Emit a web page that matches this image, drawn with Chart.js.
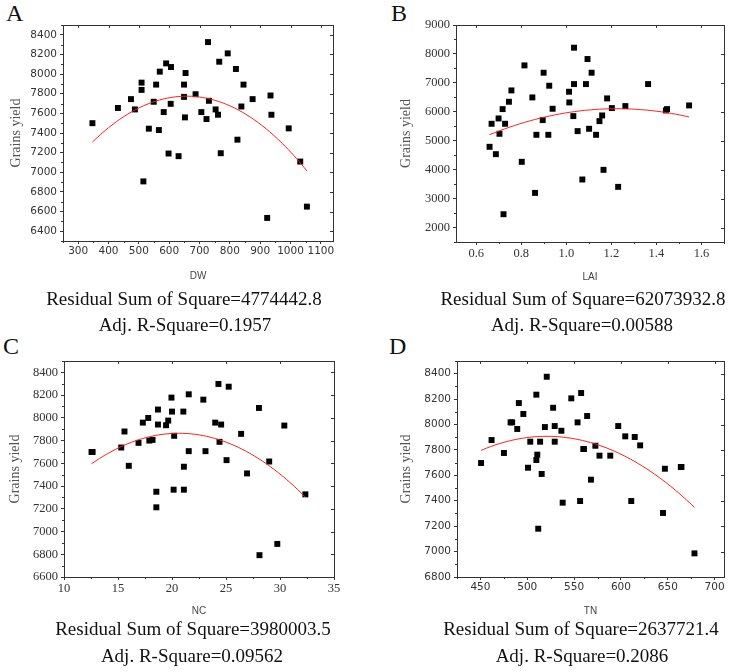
<!DOCTYPE html>
<html>
<head>
<meta charset="utf-8">
<script src="https://cdn.jsdelivr.net/npm/chart.js@4.4.0/dist/chart.umd.min.js"></script>
<style>
    body { margin: 0; background: #fff; width: 738px; height: 672px; position: relative; overflow: hidden; font-family: "Liberation Serif", "Times New Roman", serif; color: #111; }
    canvas { position: absolute; }
    .tag { position: absolute; font-size: 24px; line-height: 1; }
    .cap { position: absolute; width: 400px; text-align: center; font-size: 19px; line-height: 1; white-space: nowrap; }
</style>
</head>
<body>
    <div class="tag" style="left:6px;top:1px">A</div>
    <div class="tag" style="left:391px;top:1px">B</div>
    <div class="tag" style="left:3px;top:334px">C</div>
    <div class="tag" style="left:389px;top:334px">D</div>

    <canvas id="chartA" width="369" height="290" style="left:0;top:0"></canvas>
    <canvas id="chartB" width="369" height="290" style="left:369px;top:0"></canvas>
    <canvas id="chartC" width="369" height="290" style="left:0;top:336px"></canvas>
    <canvas id="chartD" width="369" height="290" style="left:369px;top:336px"></canvas>

    <div class="cap" style="left:-16px;top:289px">Residual Sum of Square=4774442.8</div>
    <div class="cap" style="left:-15px;top:315px">Adj. R-Square=0.1957</div>
    <div class="cap" style="left:383px;top:289px">Residual Sum of Square=62073932.8</div>
    <div class="cap" style="left:382px;top:315px">Adj. R-Square=0.00588</div>
    <div class="cap" style="left:-7px;top:619px">Residual Sum of Square=3980003.5</div>
    <div class="cap" style="left:-8px;top:646px">Adj. R-Square=0.09562</div>
    <div class="cap" style="left:381px;top:619px">Residual Sum of Square=2637721.4</div>
    <div class="cap" style="left:382px;top:646px">Adj. R-Square=0.2086</div>

<script>
    // values
    const dwX = [347, 431, 474, 487, 509, 509, 515, 533, 549, 557, 566, 569, 582, 590, 598, 606, 605, 631, 649, 649, 652, 654, 687, 706, 723, 728, 731, 753, 761, 765, 770, 793, 820, 825, 838, 845, 875, 923, 934, 937, 994, 1032, 1054];
    const dwY = [7500, 7655, 7745, 7640, 7913, 7839, 6907, 7444, 7718, 7893, 7430, 8025, 7613, 8109, 7191, 8072, 7697, 7164, 7893, 7768, 7559, 8011, 7795, 7613, 7542, 8326, 7728, 7640, 7586, 8126, 7194, 8211, 8052, 7332, 7670, 7893, 7745, 6535, 7782, 7586, 7447, 7109, 6650];

    const laiX = [0.659, 0.668, 0.687, 0.699, 0.703, 0.717, 0.721, 0.728, 0.745, 0.756, 0.802, 0.814, 0.849, 0.861, 0.867, 0.895, 0.899, 0.920, 0.924, 0.939, 1.012, 1.013, 1.031, 1.034, 1.034, 1.050, 1.071, 1.087, 1.094, 1.101, 1.112, 1.132, 1.147, 1.159, 1.165, 1.181, 1.202, 1.230, 1.262, 1.363, 1.442, 1.447, 1.545];
    const laiY = [4790, 5586, 4536, 5770, 5240, 6093, 2460, 5586, 6347, 6739, 4271, 7604, 6497, 3198, 5205, 5713, 7351, 5205, 6901, 6105, 6693, 6324, 5851, 8216, 6958, 5332, 3660, 6958, 7824, 5413, 7351, 5205, 5678, 5874, 3994, 6463, 6128, 3406, 6197, 6958, 6047, 6093, 6220];

    const ncX = [12.55, 12.65, 15.3, 15.6, 16.0, 16.9, 17.3, 17.8, 17.9, 18.2, 18.55, 18.55, 18.7, 18.7, 19.45, 19.65, 19.95, 20.0, 20.2, 20.15, 21.05, 21.1, 21.1, 21.55, 21.55, 22.9, 23.1, 24.0, 24.3, 24.4, 24.55, 25.05, 25.25, 26.4, 26.95, 28.05, 28.1, 29.0, 29.75, 30.4, 32.35];
    const ncY = [7700, 7700, 7739, 7880, 7578, 7780, 7958, 7999, 7800, 7806, 7350, 7213, 7941, 8073, 7935, 7976, 8178, 8055, 7842, 7368, 8055, 7570, 7368, 8207, 7707, 8160, 7707, 7958, 8298, 7789, 7941, 7628, 8274, 7859, 7511, 8087, 6792, 7616, 6891, 7932, 7327];

    const tnX = [450.7, 461.9, 475.1, 482.2, 483.9, 489.3, 491.0, 495.8, 500.8, 503.2, 509.7, 509.7, 510.7, 511.7, 513.7, 515.4, 518.8, 520.8, 527.6, 529.3, 529.3, 536.4, 537.8, 547.0, 553.7, 556.4, 557.5, 559.8, 560.5, 563.9, 568.0, 572.7, 577.1, 588.6, 597.1, 604.6, 611.0, 614.7, 620.5, 644.9, 646.9, 663.9, 664.6, 678.5];
    const tnY = [7697, 7878, 7776, 8017, 8017, 7965, 8169, 8083, 7660, 7865, 8235, 7721, 7763, 7180, 7865, 7611, 7980, 8376, 8132, 7988, 7865, 7951, 7385, 8206, 8017, 7398, 8248, 7807, 7807, 8067, 7566, 7833, 7755, 7755, 7988, 7907, 7398, 7902, 7836, 7304, 7652, 7666, 7666, 6986];

    // tick labels
    const dwTicks = [300, 400, 500, 600, 700, 800, 900, 1000, 1100];
    const laiTicks = [0.6, 0.8, 1.0, 1.2, 1.4, 1.6];
    const ncTicks = [10, 15, 20, 25, 30, 35];
    const tnTicks = [450, 500, 550, 600, 650, 700];
    const yieldTicksA = [6400, 6600, 6800, 7000, 7200, 7400, 7600, 7800, 8000, 8200, 8400];
    const yieldTicksB = [2000, 3000, 4000, 5000, 6000, 7000, 8000, 9000];
    const yieldTicksC = [6600, 6800, 7000, 7200, 7400, 7600, 7800, 8000, 8200, 8400];
    const yieldTicksD = [6800, 7000, 7200, 7400, 7600, 7800, 8000, 8200, 8400];

    const SANS = { family: '"DejaVu Sans", sans-serif', size: 10.5 };
    const SERIF = { family: '"Liberation Serif", serif', size: 12.5 };

    // least squares y = c0 + c1*x + c2*x^2 (x centred for stability)
    function quadFit(xs, ys) {
        const mx = xs.reduce((s, v) => s + v, 0) / xs.length;
        const s = [0, 0, 0, 0, 0], t = [0, 0, 0];
        xs.forEach((x, i) => {
            let p = 1;
            const d = x - mx;
            for (let k = 0; k < 5; k++) {
                s[k] += p;
                if (k < 3) t[k] += p * ys[i];
                p *= d;
            }
        });
        const m = [[s[0], s[1], s[2], t[0]], [s[1], s[2], s[3], t[1]], [s[2], s[3], s[4], t[2]]];
        for (let c = 0; c < 3; c++) {
            for (let r = c + 1; r < 3; r++) {
                const f = m[r][c] / m[c][c];
                for (let k = c; k < 4; k++) m[r][k] -= f * m[c][k];
            }
        }
        const b = [0, 0, 0];
        for (let r = 2; r >= 0; r--) {
            let v = m[r][3];
            for (let k = r + 1; k < 3; k++) v -= m[r][k] * b[k];
            b[r] = v / m[r][r];
        }
        return x => b[0] + b[1] * (x - mx) + b[2] * (x - mx) * (x - mx);
    }

    function fitLine(xs, ys) {
        const f = quadFit(xs, ys);
        const lo = Math.min(...xs), hi = Math.max(...xs);
        const pts = [];
        for (let i = 0; i <= 80; i++) {
            const x = lo + (hi - lo) * i / 80;
            pts.push({ x: x, y: f(x) });
        }
        return pts;
    }

    // box round the plot, minor ticks outside, mirrored major ticks inside
    const framePlugin = {
        id: 'frame',
        afterDraw(chart) {
            const { ctx, chartArea: a, scales: { x, y } } = chart;
            ctx.save();
            ctx.strokeStyle = '#333';
            ctx.lineWidth = 1;
            ctx.strokeRect(Math.round(a.left) + 0.5, Math.round(a.top) + 0.5, Math.round(a.right - a.left), Math.round(a.bottom - a.top));
            ctx.beginPath();
            const minors = (sc) => {
                const v = sc.ticks.map(t => t.value);
                const step = v[1] - v[0];
                const out = [];
                for (let m = v[0] - step / 2; m <= sc.max + 1e-9; m += step) if (m >= sc.min) out.push(m);
                return out;
            };
            minors(x).forEach(v => {
                const px = Math.round(x.getPixelForValue(v)) + 0.5;
                ctx.moveTo(px, a.bottom); ctx.lineTo(px, a.bottom + 2);
            });
            minors(y).forEach(v => {
                const py = Math.round(y.getPixelForValue(v)) + 0.5;
                ctx.moveTo(a.left, py); ctx.lineTo(a.left - 2, py);
            });
            x.ticks.forEach(t => {
                const px = Math.round(x.getPixelForValue(t.value)) + 0.5;
                ctx.moveTo(px, a.top); ctx.lineTo(px, a.top + 3);
            });
            y.ticks.forEach(t => {
                const py = Math.round(y.getPixelForValue(t.value)) + 0.5;
                ctx.moveTo(a.right, py); ctx.lineTo(a.right - 3, py);
            });
            ctx.stroke();
            ctx.restore();
        }
    };

    function makePanel(id, p) {
        const lh = 14 * 1.2;
        new Chart(document.getElementById(id), {
            type: 'scatter',
            data: {
                datasets: [
                    { data: fitLine(p.xs, p.ys), showLine: true, borderColor: '#ff1a1a', borderWidth: 1, pointRadius: 0, tension: 0 },
                    { data: p.xs.map((x, i) => ({ x: x, y: p.ys[i] })), pointStyle: 'rect', pointRadius: 4.2, backgroundColor: '#000', borderWidth: 0 }
                ]
            },
            options: {
                responsive: false,
                animation: false,
                devicePixelRatio: 1,
                layout: { padding: { left: 0, top: 25, right: 369 - p.right, bottom: 0 } },
                plugins: { legend: { display: false }, tooltip: { enabled: false } },
                scales: {
                    x: {
                        type: 'linear', min: p.xMin, max: p.xMax,
                        afterBuildTicks: s => { s.ticks = p.xTicks.map(v => ({ value: v })); },
                        afterFit: s => { s.height = 290 - p.bottom; s.paddingLeft = 0; s.paddingRight = 0; },
                        grid: { drawOnChartArea: false, tickLength: 3, color: '#333' },
                        border: { color: '#333' },
                        ticks: { font: p.tickFont, color: '#333', padding: 1, maxRotation: 0, autoSkip: false, callback: p.xFmt || (v => String(v)) },
                        title: { display: true, text: p.xTitle, color: '#444', font: { family: '"Liberation Sans", sans-serif', size: 10 }, padding: { top: 0, bottom: p.xTitlePad } }
                    },
                    y: {
                        type: 'linear', min: p.yMin, max: p.yMax,
                        afterBuildTicks: s => { s.ticks = p.yTicks.map(v => ({ value: v })); },
                        afterFit: s => { s.width = p.left; s.paddingTop = 0; s.paddingBottom = 0; },
                        grid: { drawOnChartArea: false, tickLength: 3, color: '#333' },
                        border: { color: '#333' },
                        ticks: { font: p.tickFont, color: '#333', padding: 3, autoSkip: false, callback: v => String(v) },
                        title: { display: true, text: 'Grains yield', color: '#555', font: { family: '"Liberation Serif", serif', size: 14 }, padding: { top: p.yTitleX - lh / 2, bottom: 0 } }
                    }
                }
            },
            plugins: [framePlugin]
        });
    }

    makePanel('chartA', { xs: dwX, ys: dwY, xMin: 250, xMax: 1140, xTicks: dwTicks, yMin: 6300, yMax: 8500, yTicks: yieldTicksA,
        xTitle: 'DW', tickFont: SANS, left: 63, right: 333, bottom: 241, yTitleX: 16.7, xTitlePad: 7.7 });
    makePanel('chartB', { xs: laiX, ys: laiY, xMin: 0.51, xMax: 1.70, xTicks: laiTicks, yMin: 1500, yMax: 9000, yTicks: yieldTicksB,
        xTitle: 'LAI', tickFont: SERIF, left: 87, right: 355, bottom: 242, yTitleX: 37.5, xTitlePad: 7, xFmt: v => v.toFixed(1) });
    makePanel('chartC', { xs: ncX, ys: ncY, xMin: 10, xMax: 35, xTicks: ncTicks, yMin: 6600, yMax: 8500, yTicks: yieldTicksC,
        xTitle: 'NC', tickFont: SERIF, left: 64, right: 334, bottom: 241, yTitleX: 15.5, xTitlePad: 8.5 });
    makePanel('chartD', { xs: tnX, ys: tnY, xMin: 425, xMax: 710, xTicks: tnTicks, yMin: 6800, yMax: 8500, yTicks: yieldTicksD,
        xTitle: 'TN', tickFont: SANS, left: 88, right: 355, bottom: 241, yTitleX: 37, xTitlePad: 8.5 });
</script>
</body>
</html>
